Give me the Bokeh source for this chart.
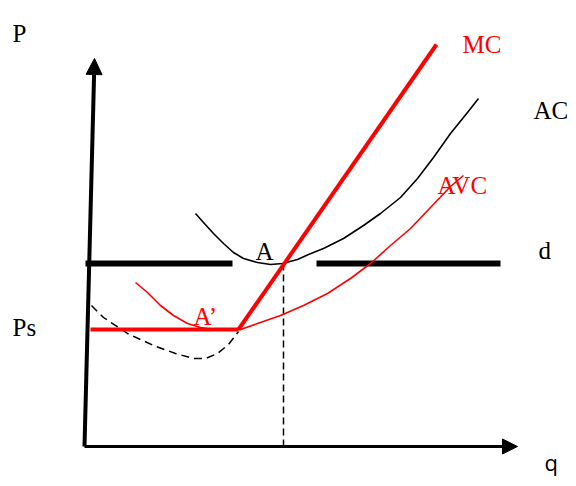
from bokeh.plotting import figure
from bokeh.models import Range1d, Arrow, NormalHead
from bokeh.core.properties import value
from bokeh.embed import file_html
from bokeh.resources import INLINE

# Data in (q, P) units, origin at the axes corner
yaxis_q = [0, 10]
yaxis_p = [0, 388]
xaxis_q = [0, 433]
xaxis_p = [0, 0]

d_level = 183
d_left_q = [1, 148]
d_right_q = [232, 416]

ps_level = 117
ps_q = [6, 154]

mc_q = [154, 352]
mc_p = [117, 402]

qA = 199

ac_q = [111, 119, 129, 139, 149, 159, 173, 186, 198, 213, 224, 239, 259, 279, 296, 316, 333, 349, 366, 383, 394]
ac_p = [233, 224, 213, 203, 194, 188, 184, 182, 183, 187, 192, 198, 208, 221, 233, 249, 268, 289, 313, 334, 348]

avc_q = [51, 63, 76, 89, 103, 116, 129, 156, 173, 196, 219, 243, 266, 286, 306, 326, 346, 366, 379]
avc_p = [164, 154, 141, 131, 123, 119, 117, 117, 123, 131, 141, 153, 168, 183, 201, 218, 239, 260, 271]

dash_q = [7, 19, 43, 69, 91, 109, 121, 133, 144, 154]
dash_p = [141, 129, 113, 101, 93, 88, 88, 93, 102, 115]

black_labels = ["P", "AC", "d", "A", "Ps"]
black_lq = [-72, 449, 454, 171, -72]
black_lp = [413, 336, 196, 195, 119]

red_labels = ["MC", "AVC", "A\u2019"]
red_lq = [378, 353, 109]
red_lp = [402, 261, 130]

q_label_q = [460]
q_label_p = [-30]

p = figure(width=568, height=478, output_backend="svg", toolbar_location=None,
           x_range=Range1d(-84, 484), y_range=Range1d(-32, 446),
           min_border=0)
p.axis.visible = False
p.grid.visible = False
p.outline_line_color = None
p.background_fill_color = "white"

RED = "#ff0000"

# axes with arrows
p.add_layout(Arrow(x_start=yaxis_q[0], y_start=yaxis_p[0], x_end=yaxis_q[1], y_end=yaxis_p[1],
                   line_width=4, line_color="black",
                   end=NormalHead(size=16, fill_color="black", line_color="black", line_width=1)))
p.add_layout(Arrow(x_start=xaxis_q[0], y_start=xaxis_p[0], x_end=xaxis_q[1], y_end=xaxis_p[1],
                   line_width=3, line_color="black",
                   end=NormalHead(size=15, fill_color="black", line_color="black", line_width=1)))

# dashed vertical at A
p.line([qA, qA], [0, d_level], line_color="black", line_width=1.5, line_dash="7 4")

# demand line d
p.line(d_left_q, [d_level, d_level], line_color="black", line_width=6)
p.line(d_right_q, [d_level, d_level], line_color="black", line_width=6)

# dashed portion of MC below AVC
p.line(dash_q, dash_p, line_color="black", line_width=1.5, line_dash="8 5")

# AC
p.line(ac_q, ac_p, line_color="black", line_width=1.6, line_join="round")
# AVC
p.line(avc_q, avc_p, line_color=RED, line_width=1.6, line_join="round")

# Ps horizontal and MC
p.line(ps_q, [ps_level, ps_level], line_color=RED, line_width=4)
p.line(mc_q, mc_p, line_color=RED, line_width=4)

p.text(black_lq, black_lp, text=black_labels, text_color="black",
       text_font=value("Liberation Serif"), text_font_size="25px",
       text_baseline="alphabetic", text_align="left")
p.text(red_lq, red_lp, text=red_labels, text_color=RED,
       text_font=value("Liberation Serif"), text_font_size="25px",
       text_baseline="alphabetic", text_align="left")
p.text(q_label_q, q_label_p, text=["q"], text_color="black",
       text_font=value("Open Sans"), text_font_size="22px",
       text_baseline="bottom", text_align="left")

open("out.html", "w").write(file_html(p, INLINE))
